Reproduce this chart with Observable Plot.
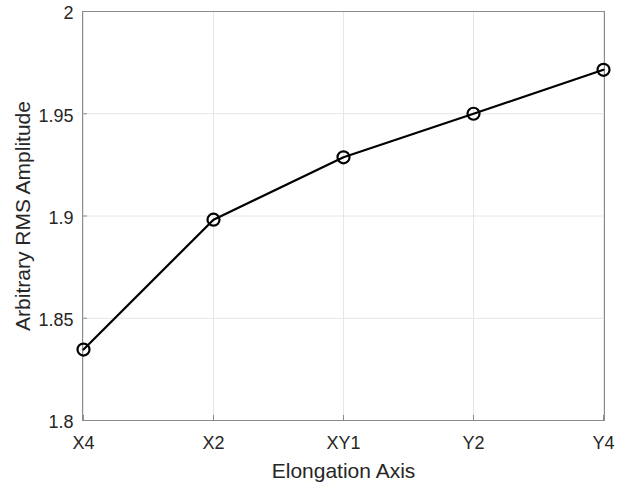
<!DOCTYPE html>
<html><head><meta charset="utf-8">
<script src="https://cdn.jsdelivr.net/npm/d3@7"></script>
<script src="https://cdn.jsdelivr.net/npm/@observablehq/plot@0.6"></script>
<style>body{margin:0;background:#fff;} svg{display:block;}</style>
</head><body><div id="chart"></div>
<script>
const categories = ["X4", "X2", "XY1", "Y2", "Y4"];
const amplitude = [1.8347, 1.8982, 1.9287, 1.9500, 1.9715];
const yTicks = [1.8, 1.85, 1.9, 1.95, 2];
const data = categories.map((c, i) => ({cat: c, v: amplitude[i]}));
const font = "'Liberation Sans', Arial, sans-serif";
const chart = Plot.plot({
  width: 619, height: 482,
  marginLeft: 82, marginRight: 15, marginTop: 11, marginBottom: 62,
  style: {fontFamily: font, fontSize: "18px", color: "#262626", background: "#fff"},
  x: {type: "point", domain: categories, padding: 0, label: null},
  y: {domain: [1.8, 2], label: null},
  marks: [
    Plot.gridX(categories, {stroke: "#e6e6e6", strokeOpacity: 1}),
    Plot.gridY(yTicks, {stroke: "#e6e6e6", strokeOpacity: 1}),
    Plot.frame({stroke: "#8c8c8c"}),
    Plot.axisX(categories, {tickSize: -5, stroke: "#8c8c8c", tickFormat: () => "", label: null}),
    Plot.axisY(yTicks, {tickSize: -5, stroke: "#8c8c8c", tickFormat: () => "", label: null}),
    Plot.axisX(categories, {tickSize: 0, tickPadding: 16, fontSize: 18, fill: "#262626", label: null}),
    Plot.axisY(yTicks, {tickSize: 0, tickPadding: 9, fontSize: 18, fill: "#262626", dy: 2, tickFormat: d => String(d), label: null}),
    Plot.line(data, {x: "cat", y: "v", stroke: "#000", strokeWidth: 2.2}),
    Plot.dot(data, {x: "cat", y: "v", r: 6, stroke: "#000", strokeWidth: 2.2, fill: "none"}),
    Plot.text(["Elongation Axis"], {frameAnchor: "bottom", dy: 57, fontSize: 21, fill: "#262626"}),
    Plot.text(["Arbitrary RMS Amplitude"], {frameAnchor: "left", textAnchor: "middle", dx: -59, rotate: -90, fontSize: 21, fill: "#262626"})
  ]
});
document.getElementById("chart").append(chart);
</script></body></html>
